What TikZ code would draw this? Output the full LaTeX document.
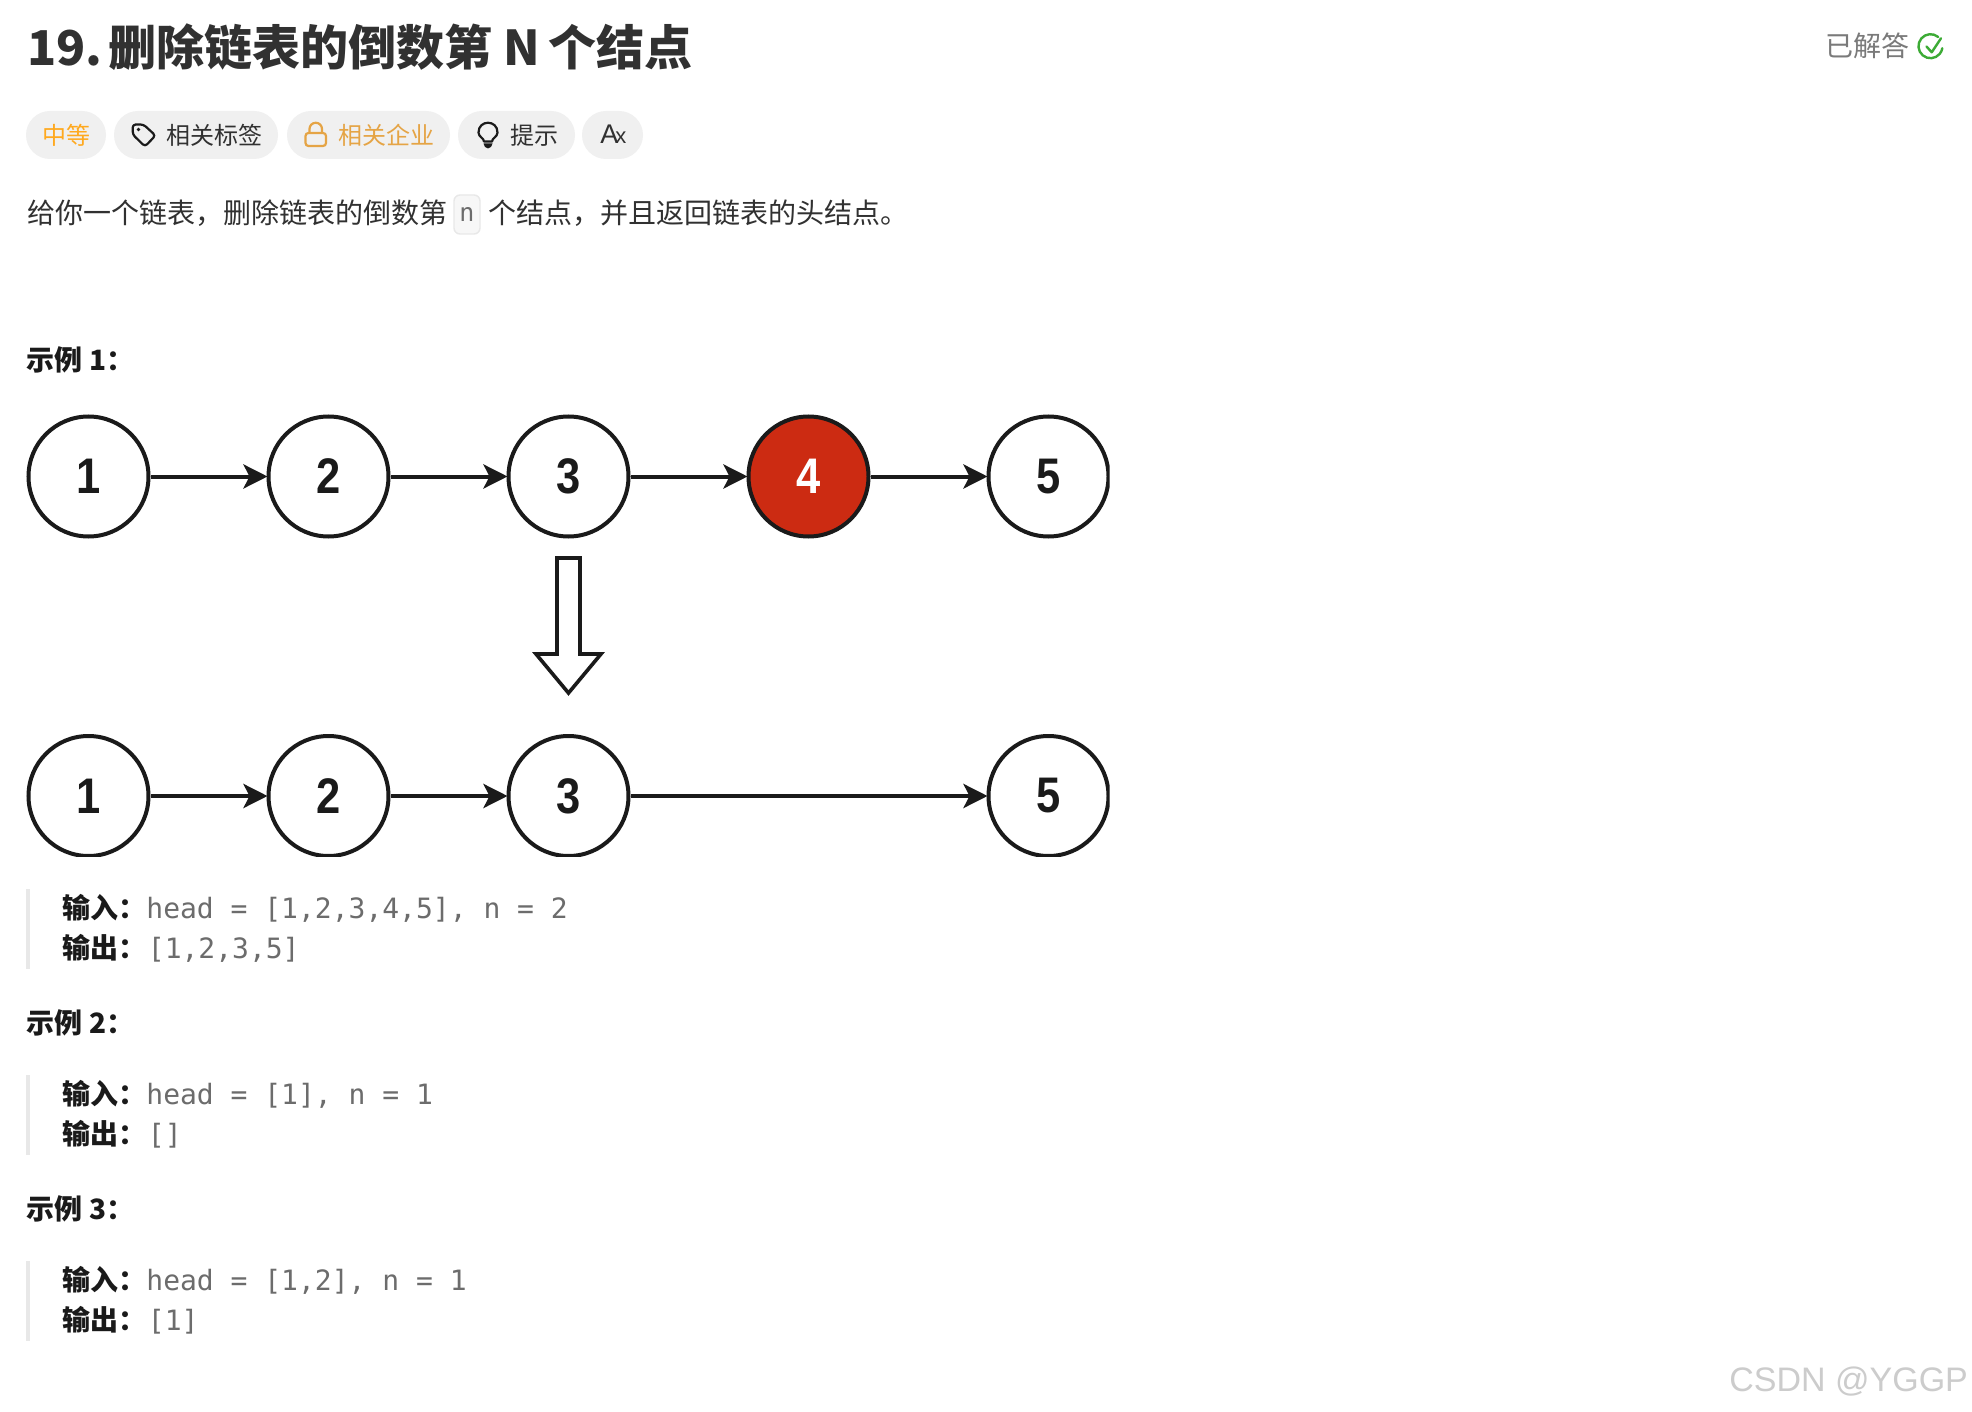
\documentclass[tikz,border=0pt]{standalone}
\usepackage{fontspec}
\usepackage{graphicx}
\setmainfont{Noto Sans CJK SC}
\setmonofont{DejaVu Sans Mono}
\newfontfamily\numfont{Liberation Sans}
\usetikzlibrary{arrows.meta}
\definecolor{ink}{HTML}{1A1A1A}
\definecolor{pill}{HTML}{F0F0F0}
\definecolor{orangeA}{HTML}{FFA91F}
\definecolor{orangeB}{HTML}{E5A445}
\definecolor{codegrey}{HTML}{6C6C6C}
\definecolor{solvedgrey}{HTML}{7A7A7A}
\definecolor{barg}{HTML}{E8E8E8}
\definecolor{redn}{HTML}{CC2B12}
\definecolor{okgreen}{HTML}{3CAB35}
\newcommand{\dg}[1]{\scalebox{0.87}[1]{#1}}
\tikzset{
  x=0.5pt,y=-0.5pt,
  txt/.style={anchor=base west,inner sep=0pt,font=\fontsize{14}{14}\selectfont,text=ink!90},
  bld/.style={txt,font=\fontsize{14}{14}\selectfont\bfseries,text=ink},
  mono/.style={txt,font=\fontsize{14}{14}\selectfont\ttfamily,text=codegrey},
  pilltxt/.style={txt,font=\fontsize{12}{12}\selectfont},
  pillbox/.style={fill=pill,rounded corners=12pt},
  lnode/.style={circle,draw=ink,line width=2pt,fill=white,minimum size=60pt,inner sep=0pt,font=\fontsize{25}{25}\selectfont\numfont\bfseries,text=ink},
  link/.style={draw=ink,line width=2pt,-{Stealth[length=12pt,width=12pt,inset=3pt]},shorten >=-0.5pt},
  bar/.style={fill=barg},
  icon/.style={draw=ink,line width=1.1pt,line join=round,line cap=round}
}
\begin{document}
\begin{tikzpicture}
\useasboundingbox (0,0) rectangle (1972,1412);
\fill[white] (0,0) rectangle (1972,1412);
% title
\node[txt,font=\fontsize{24}{24}\selectfont\bfseries] (title) at (27,65.5) {19.\hspace{3pt}删除链表的倒数第 N\hspace{-1.2pt} 个结点};
\node[txt,text=solvedgrey] (solved) at (1825,57) {已解答};
\draw[okgreen,line width=1.2pt,line cap=round] (1938.2,37) arc[start angle=-50,end angle=-350,radius=12];
\draw[okgreen,line width=1.2pt,line cap=round,line join=round] (1926.5,46.5) -- (1931.7,52.3) -- (1941,38.3);
% pills
\fill[pillbox] (26,111) rectangle (106,159);
\fill[pillbox] (114,111) rectangle (278,159);
\fill[pillbox] (287,111) rectangle (450,159);
\fill[pillbox] (458,111) rectangle (575,159);
\fill[pillbox] (582,111) rectangle (643,159);
\node[pilltxt,text=orangeA] (p1) at (42,145) {中等};
\node[pilltxt] (p2) at (166,145) {相关标签};
\node[pilltxt,text=orangeB] (p3) at (338,145) {相关企业};
\node[pilltxt] (p4) at (510,145) {提示};
\node[pilltxt,font=\fontsize{13.5}{13.5}\selectfont\numfont] (p5) at (600,144) {A};
\node[pilltxt,font=\fontsize{11}{11}\selectfont\numfont] (p5b) at (615,144) {x};
% tag icon
\draw[icon,rounded corners=1.5pt] (132.7,124.5) -- (143.5,124.5) -- (155.5,135.5) -- (145,146.5) -- (132.7,134.5) -- cycle;
\fill[ink] (138.5,129.5) circle (1.8);
% lock icon
\draw[draw=orangeB,line width=1.1pt,rounded corners=1.5pt] (305.5,133) rectangle (326,146);
\draw[draw=orangeB,line width=1.1pt] (309.5,133) -- (309.5,129) arc[start angle=180,end angle=360,radius=6.25] -- (322,133);
% bulb icon
\draw[icon] (484,141.5) .. controls (484,138) and (478.5,137) .. (478.5,132.5) .. controls (478.5,119.5) and (497.5,119.5) .. (497.5,132.5) .. controls (497.5,137) and (492,138) .. (492,141.5) -- cycle;
\fill[ink] (483.5,143.5) -- (492.5,143.5) -- (491,147) -- (488,148.5) -- (485,147) -- cycle;
% description
\node[txt] (d1) at (27,224) {给你一个链表，删除链表的倒数第};
\draw[draw=barg,fill=black!3,line width=0.7pt,rounded corners=3pt] (454,195) rectangle (480,234);
\node[txt,font=\fontsize{12.5}{12.5}\selectfont\ttfamily,text=codegrey] (d2) at (459,222) {n};
\node[txt] (d3) at (488,224) {个结点，并且返回链表的头结点。};
% example 1
\node[bld] (e1) at (26.5,371) {示例 1：};
\begin{scope}
\clip (0,0) rectangle (1109.5,856.5);
\node[lnode] (a1) at (88.5,476.5) {\dg{1}};
\node[lnode] (a2) at (328.5,476.5) {\dg{2}};
\node[lnode] (a3) at (568.5,476.5) {\dg{3}};
\node[lnode,fill=redn,text=white] (a4) at (808.5,476.5) {\dg{4}};
\node[lnode] (a5) at (1048.5,476.5) {\dg{5}};
\draw[link] (a1) -- (a2);
\draw[link] (a2) -- (a3);
\draw[link] (a3) -- (a4);
\draw[link] (a4) -- (a5);
\draw[draw=ink,fill=white,line width=1.8pt,line join=miter]
  (557,558) -- (580,558) -- (580,654) -- (601,654) -- (568.5,693) -- (536,654) -- (557,654) -- cycle;
\node[lnode] (b1) at (88.5,796) {\dg{1}};
\node[lnode] (b2) at (328.5,796) {\dg{2}};
\node[lnode] (b3) at (568.5,796) {\dg{3}};
\node[lnode] (b5) at (1048.5,796) {\dg{5}};
\draw[link] (b1) -- (b2);
\draw[link] (b2) -- (b3);
\draw[link] (b3) -- (b5);
\end{scope}
\fill[bar] (26,889) rectangle (30,969);
\node[bld] (i1) at (62,918) {输入：};
\node[mono] (iv1) at (146,918) {head = [1,2,3,4,5], n = 2};
\node[bld] (o1) at (62,958) {输出：};
\node[mono] (ov1) at (147.5,958) {[1,2,3,5]};
% example 2
\node[bld] (e2) at (26.5,1033) {示例 2：};
\fill[bar] (26,1075) rectangle (30,1155);
\node[bld] (i2) at (62,1104) {输入：};
\node[mono] (iv2) at (146,1104) {head = [1], n = 1};
\node[bld] (o2) at (62,1144) {输出：};
\node[mono] (ov2) at (147.5,1144) {[]};
% example 3
\node[bld] (e3) at (26.5,1219) {示例 3：};
\fill[bar] (26,1261) rectangle (30,1341);
\node[bld] (i3) at (62,1290) {输入：};
\node[mono] (iv3) at (146,1290) {head = [1,2], n = 1};
\node[bld] (o3) at (62,1330) {输出：};
\node[mono] (ov3) at (147.5,1330) {[1]};
% watermark
\node[txt,font=\fontsize{17}{17}\selectfont\numfont,text=black!20] (wm) at (1729,1391) {CSDN @YGGP};
\end{tikzpicture}
\end{document}
